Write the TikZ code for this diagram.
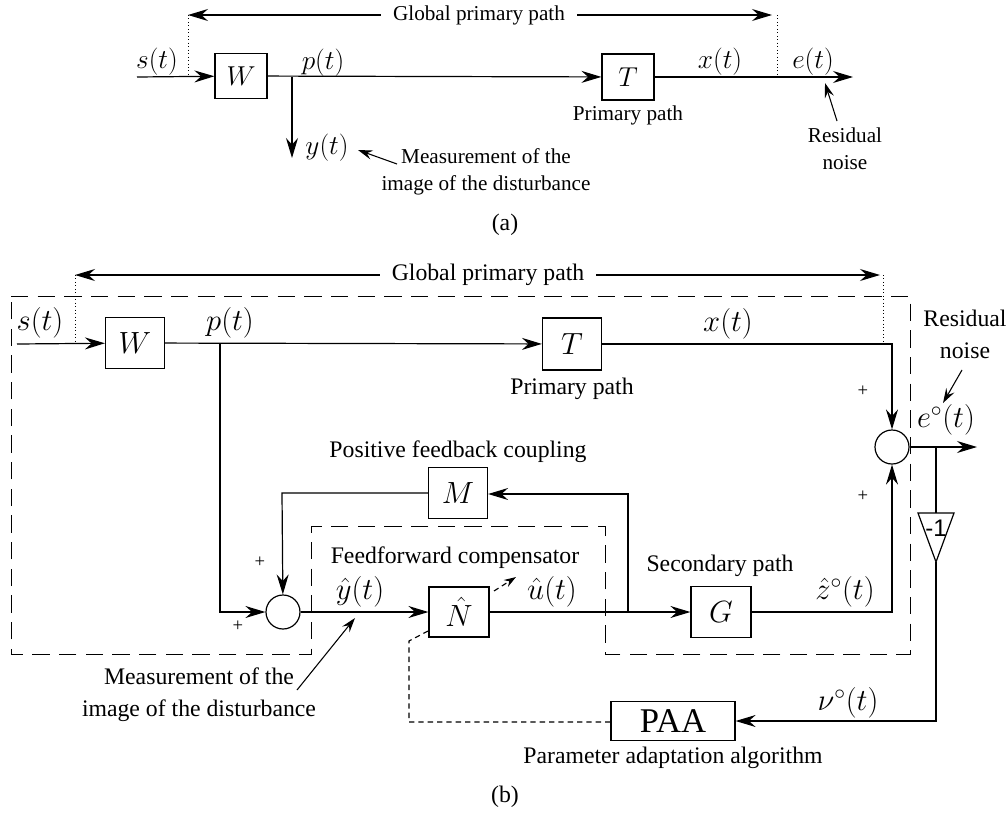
\RequirePackage{fix-cm}
\documentclass[tikz,border=0pt]{standalone}
\usepackage{fontspec}
\setmainfont{Liberation Serif}
\newfontfamily\lsans{Liberation Sans}
\usetikzlibrary{arrows.meta}
\newcommand\fma{\fontsize{20.5}{24}\selectfont}
\newcommand\fmb{\fontsize{23}{27}\selectfont}
\newcommand\fta{\fontsize{15.9}{20.2}\selectfont}
\newcommand\ftb{\fontsize{17.8}{24}\selectfont}
\tikzset{
  ln/.style={line width=0.9pt},
  arr/.style={ln,-{Stealth[length=15pt,width=9pt,inset=5pt]}},
  sarr/.style={line width=0.8pt,-{Stealth[length=11pt,width=7pt,inset=4pt]}},
  blk/.style={draw,line width=0.9pt,inner sep=0pt},
  sumc/.style={draw,circle,line width=0.9pt,inner sep=0pt,minimum size=25.5pt},
  lbl/.style={inner sep=0pt},
  dots/.style={line width=0.6pt,dotted},
  outer/.style={line width=0.7pt,dash pattern=on 13pt off 7pt},
  adapt/.style={line width=0.85pt,dash pattern=on 4pt off 3pt},
}
\begin{document}
\begin{tikzpicture}[x=0.75pt,y=-0.75pt]
\useasboundingbox (0,0) rectangle (1007,814);
%%%%%%%%%%%%%%%% (a)
\node[blk,minimum width=39pt,minimum height=34pt] (Wa) at (241,76) {\fma$W$};
\node[blk,minimum width=39pt,minimum height=34.5pt] (Ta) at (628,77) {\fma$T$};
\coordinate (sa) at (137,77);
\coordinate (pa) at (292,77);
\coordinate (ya) at (292,158);
\coordinate (ea) at (853,77);
\draw[arr] (sa) -- (Wa);
\draw[arr] (Wa) -- (Ta);
\draw[arr] (pa) -- (ya);
\draw[arr] (Ta) -- (ea);
\node[lbl] (sla) at (157,62) {\fma$s(t)$};
\node[lbl] (pla) at (323,63) {\fma$p(t)$};
\node[lbl] (yla) at (327,148) {\fma$y(t)$};
\node[lbl] (xla) at (720,62) {\fma$x(t)$};
\node[lbl] (ela) at (813,62) {\fma$e(t)$};
\coordinate (gla1) at (188,15);
\coordinate (gla2) at (188,77);
\coordinate (gra1) at (777,15);
\coordinate (gra2) at (777,77);
\coordinate (gratip) at (772,15);
\draw[dots] (gla1) -- (gla2);
\draw[dots] (gra1) -- (gra2);
\node[lbl,inner xsep=9pt,font=\fta] (ga) at (479,15) {Global primary path};
\draw[arr] (ga.west) -- (gla1);
\draw[arr] (ga.east) -- (gratip);
\node[lbl,font=\fta] (ppa) at (628,115) {Primary path};
\node[lbl,align=center,font=\fta] (msa) at (486,172) {Measurement of the\\image of the disturbance};
\coordinate (msa1) at (397,164);
\coordinate (msa2) at (358,150);
\draw[sarr] (msa1) -- (msa2);
\node[lbl,align=center,font=\fta] (rna) at (845,149) {Residual\\noise};
\coordinate (rna1) at (837,121);
\coordinate (rna2) at (825,83);
\draw[sarr] (rna1) -- (rna2);
\node[lbl,font=\ftb] (capa) at (505,225) {(a)};
%%%%%%%%%%%%%%%% (b)
% outer dashed region
\draw[outer] (11,296) -- (910,296) -- (910,654) -- (605,654) -- (605,526)
  -- (311,526) -- (311,654) -- (11,654) -- cycle;
\node[blk,minimum width=44.25pt,minimum height=38.25pt] (Wb) at (135,343) {\fmb$W$};
\node[blk,minimum width=44.25pt,minimum height=39pt] (Tb) at (572,344) {\fmb$T$};
\node[blk,minimum width=44.25pt,minimum height=38.25pt] (M) at (458,493) {\fmb$M$};
\node[blk,minimum width=45pt,minimum height=37.5pt] (N) at (459,612) {\fmb$\hat{N}$};
\node[blk,minimum width=45pt,minimum height=38.25pt] (G) at (721,612) {\fmb$G$};
\node[blk,minimum width=93pt,minimum height=29.25pt] (PAA) at (673,721) {\fontsize{26}{30}\selectfont PAA};
\node[sumc] (S1) at (892,447) {};
\node[sumc] (S2) at (283,612) {};
\coordinate (sb) at (17,344);
\coordinate (pb) at (220,344);
\coordinate (pbd) at (220,612);
\coordinate (xc) at (892,344);
\coordinate (eb) at (977,447);
\coordinate (eb1) at (936,447);
\coordinate (triT) at (936,513);
\coordinate (triL) at (918,513);
\coordinate (triR) at (954,513);
\coordinate (triB) at (936,562);
\coordinate (nub) at (936,721);
\coordinate (zc) at (892,612);
\coordinate (ub) at (628,612);
\coordinate (ubu) at (628,494);
\coordinate (mc) at (282,493);
\draw[arr] (sb) -- (Wb);
\draw[arr] (Wb) -- (Tb);
\draw[arr] (Tb) -- (xc) -- (S1);
\draw[arr] (S1) -- (eb);
\draw[ln] (eb1) -- (triT);
\draw[ln] (triL) -- (triR) -- (triB) -- cycle;
\node[lbl] (neg) at (936,528) {\lsans\fontsize{18}{20}\selectfont -1};
\draw[arr] (triB) -- (nub) -- (PAA);
\draw[arr] (pb) -- (pbd) -- (S2);
\draw[arr] (S2) -- (N);
\draw[arr] (N) -- (G);
\draw[arr] (G) -- (zc) -- (S1);
\draw[arr] (ub) -- (ubu) -- (M.east |- ubu);
\draw[arr] (M) -- (mc) -- (S2);
\coordinate (ad1) at (494,591);
\coordinate (ad2) at (516,577);
\draw[adapt,-{Stealth[length=9pt,width=6pt,inset=3pt]}] (ad1) -- (ad2);
\coordinate (pd1) at (409,722);
\coordinate (pd2) at (409,641);
\coordinate (pd3) at (428,631);
\draw[adapt] (PAA.west |- pd1) -- (pd1) -- (pd2) -- (pd3);
\node[lbl] (slb) at (40,323) {\fmb$s(t)$};
\node[lbl] (plb) at (230,323) {\fmb$p(t)$};
\node[lbl] (xlb) at (728,324) {\fmb$x(t)$};
\node[lbl] (elb) at (946,420) {\fmb$e^{\circ}(t)$};
\node[lbl] (yhb) at (360,592) {\fmb$\hat{y}(t)$};
\node[lbl] (uhb) at (552,592) {\fmb$\hat{u}(t)$};
\node[lbl] (zhb) at (845,592) {\fmb$\hat{z}^{\circ}(t)$};
\node[lbl] (nulb) at (848,703) {\fmb$\nu^{\circ}(t)$};
\node[lbl] (pl1) at (863,391) {\fontsize{14}{16}\selectfont +};
\node[lbl] (pl2) at (863,496) {\fontsize{14}{16}\selectfont +};
\node[lbl] (pl3) at (260,562) {\fontsize{14}{16}\selectfont +};
\node[lbl] (pl4) at (238,626) {\fontsize{14}{16}\selectfont +};
\coordinate (glb1) at (75,275);
\coordinate (glb2) at (75,344);
\coordinate (grb1) at (883,275);
\coordinate (grb2) at (883,344);
\coordinate (grbtip) at (880,275);
\draw[dots] (glb1) -- (glb2);
\draw[dots] (grb1) -- (grb2);
\node[lbl,inner xsep=9pt,font=\ftb] (gb) at (488,275) {Global primary path};
\draw[arr] (gb.west) -- (glb1);
\draw[arr] (gb.east) -- (grbtip);
\node[lbl,font=\ftb] (ppb) at (572,389) {Primary path};
\node[lbl,font=\ftb] (pfc) at (458,452) {Positive feedback coupling};
\node[lbl,font=\ftb] (ffc) at (455,558) {Feedforward compensator};
\node[lbl,font=\ftb] (scp) at (720,566) {Secondary path};
\node[lbl,font=\ftb] (paat) at (673,758) {Parameter adaptation algorithm};
\node[lbl,align=center,font=\ftb] (rnb) at (965,334) {Residual\\noise};
\coordinate (rnb1) at (962,370);
\coordinate (rnb2) at (943,403);
\draw[sarr] (rnb1) -- (rnb2);
\node[lbl,align=center,font=\ftb] (msb) at (199,695) {Measurement of the\\image of the disturbance};
\coordinate (msb1) at (297,690);
\coordinate (msb2) at (355,618);
\draw[sarr] (msb1) -- (msb2);
\node[lbl,font=\ftb] (capb) at (505,797) {(b)};
\end{tikzpicture}
\end{document}
